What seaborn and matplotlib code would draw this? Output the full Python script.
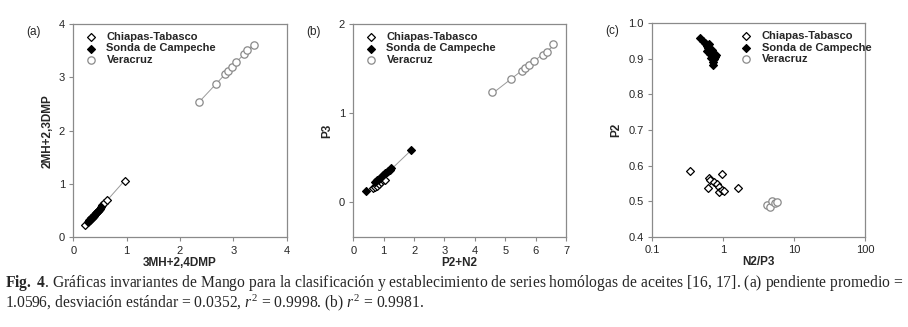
import numpy as np
import pandas as pd
import seaborn as sns
import matplotlib.pyplot as plt

# %% data
# (a) 3MH+2,4DMP vs 2MH+2,3DMP
a_chiapas_x = [0.21, 0.30, 0.34, 0.38, 0.42, 0.46, 0.50, 0.54, 0.58, 0.63, 0.97]
a_chiapas_y = [0.23, 0.32, 0.36, 0.40, 0.45, 0.49, 0.54, 0.61, 0.65, 0.70, 1.06]
a_sonda_x = [0.28, 0.30, 0.32, 0.34, 0.35, 0.37, 0.38, 0.40, 0.42, 0.44, 0.46, 0.48, 0.52]
a_sonda_y = [0.29, 0.31, 0.33, 0.36, 0.37, 0.39, 0.41, 0.43, 0.45, 0.47, 0.50, 0.52, 0.56]
a_vera_x = [2.36, 2.68, 2.85, 2.90, 2.98, 3.05, 3.20, 3.25, 3.38]
a_vera_y = [2.54, 2.88, 3.06, 3.11, 3.20, 3.28, 3.44, 3.51, 3.61]

# (b) P2+N2 vs P3
b_chiapas_x = [0.66, 0.72, 0.79, 0.85, 0.90, 0.99, 1.04]
b_chiapas_y = [0.15, 0.17, 0.18, 0.20, 0.22, 0.24, 0.25]
b_sonda_x = [0.42, 0.70, 0.78, 0.85, 0.92, 0.98, 1.05, 1.10, 1.15, 1.20, 1.25, 1.91]
b_sonda_y = [0.12, 0.22, 0.24, 0.26, 0.28, 0.30, 0.32, 0.33, 0.35, 0.36, 0.38, 0.58]
b_vera_x = [4.58, 5.20, 5.55, 5.66, 5.79, 5.94, 6.25, 6.38, 6.56]
b_vera_y = [1.23, 1.38, 1.47, 1.50, 1.54, 1.58, 1.65, 1.69, 1.77]

# (c) N2/P3 vs P2
c_chiapas_x = [0.34, 0.62, 0.64, 0.65, 0.745, 0.83, 0.88, 0.88, 0.95, 0.975, 1.03, 1.60]
c_chiapas_y = [0.585, 0.536, 0.566, 0.559, 0.553, 0.547, 0.541, 0.525, 0.531, 0.576, 0.528, 0.536]
c_sonda_x = [0.48, 0.52, 0.56, 0.59, 0.64, 0.62, 0.69, 0.73, 0.77, 0.67, 0.73, 0.71, 0.79, 0.66, 0.75, 0.60]
c_sonda_y = [0.958, 0.950, 0.944, 0.937, 0.941, 0.930, 0.925, 0.916, 0.906, 0.902, 0.892, 0.883, 0.911, 0.915, 0.900, 0.922]
c_vera_x = [4.2, 4.6, 4.9, 5.4, 5.7]
c_vera_y = [0.490, 0.484, 0.500, 0.495, 0.498]

groups = ["Chiapas-Tabasco", "Sonda de Campeche", "Veracruz"]
caption = ("$\\mathbf{Fig.\\ 4}$. Gráficas invariantes de Mango para la clasificación y establecimiento "
           "de series homólogas de aceites [16, 17]. (a) pendiente promedio =\n"
           "1.0596, desviación estándar = 0.0352, $r^2$ = 0.9998. (b) $r^2$ = 0.9981.")

# %% style
sns.set_style("ticks")
plt.rcParams['font.family'] = ['Liberation Sans', 'DejaVu Sans']
plt.rcParams['mathtext.fontset'] = 'custom'
plt.rcParams['mathtext.rm'] = 'Liberation Serif'
plt.rcParams['mathtext.it'] = 'Liberation Serif:italic'
plt.rcParams['mathtext.bf'] = 'Liberation Serif:bold'

edge_grey = "#8a8a8a"
marker_kw = {
    "Chiapas-Tabasco": dict(marker="D", s=16, color="white", edgecolor="black", linewidth=0.9),
    "Sonda de Campeche": dict(marker="D", s=16, color="black", edgecolor="black", linewidth=0.9),
    "Veracruz": dict(marker="o", s=28, color="white", edgecolor=edge_grey, linewidth=0.9),
}

fig = plt.figure(figsize=(9.08, 3.27), dpi=100)
W, H = 908, 327


def add_ax(left, top, right, bottom):
    return fig.add_axes([left / W, 1 - bottom / H, (right - left) / W, (bottom - top) / H])


ax_a = add_ax(73.3, 24, 286.7, 237.3)
ax_b = add_ax(353.3, 24, 566, 237.3)
ax_c = add_ax(652, 23.3, 865.3, 236.7)

panels = [
    (ax_a, [(a_chiapas_x, a_chiapas_y), (a_sonda_x, a_sonda_y), (a_vera_x, a_vera_y)]),
    (ax_b, [(b_chiapas_x, b_chiapas_y), (b_sonda_x, b_sonda_y), (b_vera_x, b_vera_y)]),
    (ax_c, [(c_chiapas_x, c_chiapas_y), (c_sonda_x, c_sonda_y), (c_vera_x, c_vera_y)]),
]

for ax, series in panels:
    if ax is not ax_c:
        # regression lines: Chiapas+Sonda together, Veracruz alone
        low_x = list(series[0][0]) + list(series[1][0])
        low_y = list(series[0][1]) + list(series[1][1])
        for xs, ys in [(low_x, low_y), series[2]]:
            sns.regplot(x=np.array(xs), y=np.array(ys), scatter=False, ci=None, truncate=True,
                        color="#9a9a9a", line_kws=dict(lw=0.7), ax=ax)
    for name, (xs, ys) in zip(groups, series):
        sns.scatterplot(x=xs, y=ys, label=name, ax=ax, zorder=3, **marker_kw[name])

# axes
ax_a.set(xlim=(0, 4), ylim=(0, 4), xticks=[0, 1, 2, 3, 4], yticks=[0, 1, 2, 3, 4])
ax_b.set(xlim=(0, 7), ylim=(-0.4, 2), xticks=range(8), yticks=[0, 1, 2])
ax_c.set_xscale("log")
ax_c.set(xlim=(0.1, 100), ylim=(0.4, 1.0), xticks=[0.1, 1, 10, 100],
         yticks=[0.4, 0.5, 0.6, 0.7, 0.8, 0.9, 1.0])
ax_c.set_xticklabels(["0.1", "1", "10", "100"])
ax_c.set_yticklabels([f"{v:.1f}" for v in [0.4, 0.5, 0.6, 0.7, 0.8, 0.9, 1.0]])
ax_c.minorticks_off()

labels = [("3MH+2,4DMP", "2MH+2,3DMP", "(a)"), ("P2+N2", "P3", "(b)"), ("N2/P3", "P2", "(c)")]
for ax, (xl, yl, tag) in zip([ax_a, ax_b, ax_c], labels):
    ax.set_xlabel(xl, fontsize=8.5, fontweight="bold", labelpad=1)
    ax.set_ylabel(yl, fontsize=8.5, fontweight="bold", labelpad=4)
    ax.tick_params(labelsize=8, length=3, width=0.8, color=edge_grey, pad=3)
    for sp in ax.spines.values():
        sp.set_color(edge_grey)
        sp.set_linewidth(0.9)
    ax.text(-0.22, 0.99, tag, transform=ax.transAxes, fontsize=8.5, ha="left", va="top")
    leg = ax.legend(frameon=False, prop=dict(size=8, weight="bold"), handletextpad=0.9,
                    labelspacing=0.15, borderaxespad=0.3, handlelength=1.0)
    if ax is ax_c:
        leg.set_bbox_to_anchor((0.38, 1.0), transform=ax.transAxes)
    else:
        leg.set_bbox_to_anchor((0.02, 1.0), transform=ax.transAxes)
    leg._loc = 2

fig.text(5 / W, 1 - 273 / H, caption, fontsize=11.25, family="Liberation Serif",
         ha="left", va="top", linespacing=0.98)

fig.savefig("out.png", dpi=100)
